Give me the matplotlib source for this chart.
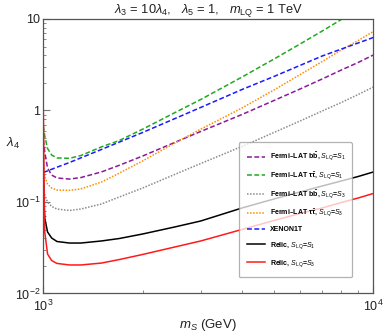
import matplotlib
matplotlib.use("Agg")
import matplotlib.pyplot as plt
from matplotlib.ticker import FixedLocator, NullFormatter

plt.rcParams['font.family'] = ['Liberation Sans', 'DejaVu Sans']
plt.rcParams['mathtext.fontset'] = 'custom'
plt.rcParams['mathtext.rm'] = 'Liberation Sans'
plt.rcParams['mathtext.it'] = 'Liberation Sans:italic'
plt.rcParams['mathtext.bf'] = 'Liberation Sans:bold'

# --- data ---
mS = [1000, 1010, 1030, 1060, 1100, 1200, 1300, 1500, 1700, 2000, 2500,
      3000, 4000, 5000, 6000, 7000, 8000, 9000, 10000]

fermi_bb_S1 = [0.476, 0.352, 0.235, 0.197, 0.183, 0.178, 0.185, 0.213, 0.252,
               0.318, 0.447, 0.590, 0.904, 1.286, 1.718, 2.21, 2.77, 3.35, 4.04]
fermi_tt_S1 = [0.68, 0.526, 0.384, 0.326, 0.303, 0.300, 0.322, 0.400, 0.470,
               0.625, 0.945, 1.319, 2.32, 3.65, 5.33, 7.39, 9.87, 12.9, 16.1]
fermi_bb_S3 = [0.1534, 0.1193, 0.100, 0.0893, 0.0838, 0.0807, 0.0838, 0.0951,
               0.1134, 0.1422, 0.1998, 0.2635, 0.4043, 0.575, 0.768, 0.987,
               1.223, 1.496, 1.806]
fermi_tt_S3 = [0.254, 0.192, 0.157, 0.142, 0.135, 0.134, 0.139, 0.165, 0.207,
               0.281, 0.440, 0.625, 1.065, 1.675, 2.47, 3.43, 4.58, 5.82, 7.30]
xenon_mS = [1000, 1100, 1200, 1500, 2000, 3000, 4000, 5000, 7000, 10000]
xenon = [0.210, 0.240, 0.270, 0.375, 0.575, 1.080, 1.696, 2.353, 3.94, 6.28]
relic_S1 = [0.1353, 0.0669, 0.0470, 0.0404, 0.0370, 0.0356, 0.0356, 0.0375,
            0.0399, 0.0447, 0.0533, 0.0620, 0.0860, 0.1079, 0.1286, 0.1496,
            0.1697, 0.1900, 0.2128]
relic_S3 = [1.0, 0.0470, 0.0270, 0.0229, 0.0213, 0.0205, 0.0205, 0.0215,
            0.0235, 0.0267, 0.0322, 0.0375, 0.0501, 0.0628, 0.0749, 0.0860,
            0.0988, 0.1106, 0.1239]

labels = [r"Fermi–LAT $\mathbf{b\bar{b}}$, $S_{\rm LQ}$=$S_1$",
          r"Fermi–LAT $\mathbf{\tau\bar{\tau}}$, $S_{\rm LQ}$=$S_1$",
          r"Fermi–LAT $\mathbf{b\bar{b}}$, $S_{\rm LQ}$=$S_3$",
          r"Fermi–LAT $\mathbf{\tau\bar{\tau}}$, $S_{\rm LQ}$=$S_3$",
          "XENON1T",
          r"Relic, $S_{\rm LQ}$=$S_1$",
          r"Relic, $S_{\rm LQ}$=$S_3$"]

yticks = [0.01, 0.1, 1, 10]
yticklabels = [r"$10^{-2}$", r"$10^{-1}$", "1", "10"]
xticks = [1000, 10000]
xticklabels = [r"$10^{3}$", r"$10^{4}$"]

fig = plt.figure(figsize=(3.84, 3.32), dpi=100)
ax = fig.add_axes([0.1128, 0.1160, 0.8594, 0.8268])

dash = (0, (3.2, 1.6))
dot = (0, (1.0, 1.0))
lw = 1.1
ax.plot(mS, fermi_bb_S1, color='#8B1A9B', ls=dash, lw=lw, label=labels[0])
ax.plot(mS, fermi_tt_S1, color='#1FAA1F', ls=dash, lw=lw, label=labels[1])
ax.plot(mS, fermi_bb_S3, color='#8C8C8C', ls=dot, lw=lw, label=labels[2])
ax.plot(mS, fermi_tt_S3, color='#FF8C00', ls=dot, lw=lw, label=labels[3])
ax.plot(xenon_mS, xenon, color='#1A1AFF', ls=dash, lw=lw, label=labels[4])
ax.plot(mS, relic_S1, color='black', ls='-', lw=lw, label=labels[5])
ax.plot(mS, relic_S3, color='#FF1A1A', ls='-', lw=lw, label=labels[6])

ax.set_xscale('log')
ax.set_yscale('log')
ax.set_xlim(1000, 10000)
ax.set_ylim(0.01, 10)

ax.set_yticks(yticks)
ax.set_yticklabels(yticklabels)
ax.set_xticks(xticks)
ax.set_xticklabels(xticklabels)
ax.xaxis.set_minor_locator(FixedLocator([k * 1000 for k in range(2, 10)]))
ax.xaxis.set_minor_formatter(NullFormatter())
yminor = [k * d for d in (0.01, 0.1, 1) for k in range(2, 10)]
ax.yaxis.set_minor_locator(FixedLocator(yminor))
ax.yaxis.set_minor_formatter(NullFormatter())

spine_col = '#555555'
for s in ax.spines.values():
    s.set_color(spine_col)
    s.set_linewidth(0.9)
ax.tick_params(which='both', direction='in', top=False, right=False,
               color='#777777', labelsize=9, labelcolor='#222222')
ax.tick_params(axis='y', pad=2)
ax.tick_params(axis='x', pad=4)
ax.tick_params(which='major', length=5, width=0.8)
ax.tick_params(which='minor', length=2.5, width=0.6)

ax.set_title(r"$\lambda_3$ = 10$\lambda_4$,   $\lambda_5$ = 1,   $m_{\rm LQ}$ = 1 TeV",
             fontsize=9.3, pad=4, color='#222222')
ax.set_xlabel(r"$m_S$ (GeV)", fontsize=9.5, color='#222222')
ax.xaxis.set_label_coords(0.5, -0.085)
ax.set_ylabel(r"$\lambda_4$", fontsize=9.5, rotation=0, color='#222222')
ax.yaxis.set_label_coords(-0.092, 0.52)

leg = ax.legend(loc='lower left', bbox_to_anchor=(0.593, 0.060, 0.342, 0.408),
                mode='expand', prop={'weight': 'bold', 'size': 5},
                handlelength=2.6, handletextpad=0.7, labelspacing=1.0,
                borderpad=1.2, borderaxespad=0, fancybox=True,
                framealpha=0.75, edgecolor='#999999')
leg.get_frame().set_linewidth(0.9)

fig.savefig("out.png", dpi=100)
